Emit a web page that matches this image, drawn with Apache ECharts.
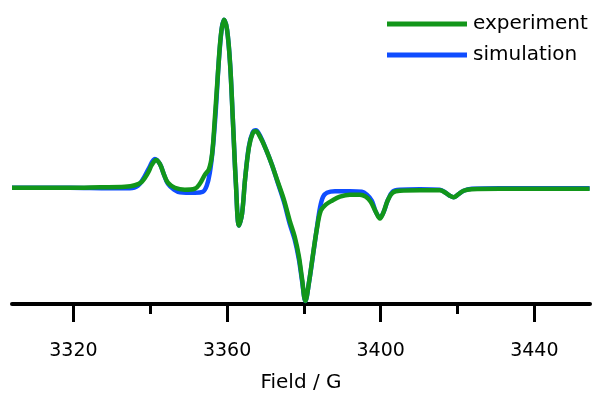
<!DOCTYPE html>
<html>
<head>
<meta charset="utf-8">
<style>html,body{margin:0;padding:0;background:#fff;}#c{width:606px;height:398px;}</style>
<script src="https://cdn.jsdelivr.net/npm/echarts@6/dist/echarts.min.js"></script>
</head>
<body>
<div id="c"></div>
<script>
// Field (G) and signal values
var expField = [3304.0,3311.3,3319.1,3326.9,3333.4,3336.0,3337.8,3339.4,3340.4,3341.5,3342.5,3343.6,3344.6,3346.4,3349.0,3351.6,3352.9,3354.2,3355.3,3356.1,3356.8,3357.6,3358.4,3359.2,3360.0,3360.8,3361.5,3362.3,3363.1,3363.9,3364.7,3365.7,3366.7,3367.5,3368.5,3370.1,3371.7,3373.2,3374.8,3376.3,3377.6,3378.7,3379.5,3380.4,3381.3,3382.3,3383.4,3384.4,3385.7,3387.3,3389.4,3392.0,3394.6,3396.1,3397.4,3398.7,3399.8,3400.8,3401.8,3403.1,3405.0,3410.2,3415.4,3416.9,3418.0,3419.0,3420.1,3421.6,3423.7,3431.0,3441.4,3454.4];
var experiment = [0,0,0,0.5,1,2.5,6,15,23,28,24,13,5,0,-2,-1,4,13,19,34,69,114,154,169,159,124,69,4,-38,-26,9,41,55,57,52,39,23,6,-12,-33,-49,-69,-91,-114,-96,-69,-41,-23,-17,-13,-9,-7,-7,-9,-14,-24,-31,-24,-13,-5,-3,-2.5,-2.5,-5,-8,-9.5,-7,-3,-1.5,-1,-1,-1];
var simField = [3304.0,3319.1,3329.5,3334.7,3336.8,3338.3,3339.7,3341.2,3342.5,3343.6,3344.6,3346.2,3347.7,3351.6,3353.7,3354.7,3355.5,3356.3,3357.1,3357.8,3358.6,3359.2,3360.0,3360.8,3361.5,3362.3,3363.1,3363.9,3364.7,3365.7,3366.7,3367.5,3368.5,3370.1,3371.7,3373.2,3374.8,3376.3,3377.6,3378.7,3379.5,3380.4,3381.3,3382.3,3383.4,3384.2,3385.0,3386.0,3388.1,3392.0,3395.1,3396.4,3397.7,3398.7,3399.8,3400.8,3401.8,3403.1,3405.0,3410.2,3415.4,3416.9,3418.0,3419.0,3420.1,3421.6,3423.7,3431.0,3454.4];
var simulation = [0,0,-0.5,-0.5,2,10,20,29,24,13,4,-2,-4.5,-5,-4,2,15,40,80,125,160,169,159,124,69,4,-38,-26,9,42,56,58,53,39,23,5,-14,-36,-52,-72,-93,-114,-96,-70,-40,-20,-9,-5,-3.5,-3.5,-4,-7,-13,-24,-30,-24,-13,-4,-2,-1.5,-2,-5,-8,-9.5,-7,-3,-1,-0.5,-0.5];
var majorTicks = [3320,3360,3400,3440];
var minorTicks = [3340,3380,3420];
var seriesNames = ['experiment','simulation'];
var xName = 'Field / G';

function pairs(xs, ys){ return xs.map(function(x,i){ return [x, ys[i]]; }); }

var chart = echarts.init(document.getElementById('c'), null, {renderer:'canvas'});
var font = 'DejaVu Sans';
chart.setOption({
  animation: false,
  backgroundColor: '#fff',
  grid: {left: 12, right: 16, top: 0, bottom: 92, containLabel: false},
  legend: {
    orient: 'vertical', left: 382, top: 7,
    data: seriesNames,
    icon: 'rect', itemWidth: 80, itemHeight: 5, itemGap: 7,
    textStyle: {fontFamily: font, fontSize: 20, color: '#000', lineHeight: 24, padding: [0,0,0,1]}
  },
  xAxis: [{
    type: 'value', min: 3304, max: 3454.5,
    name: xName, nameLocation: 'middle', nameGap: 69,
    nameTextStyle: {fontFamily: font, fontSize: 20, color: '#000'},
    axisLine: {show: true, onZero: false, lineStyle: {color: '#000', width: 4}},
    axisTick: {show: true, customValues: majorTicks, length: 18, lineStyle: {color: '#000', width: 3}},
    axisLabel: {show: true, customValues: majorTicks, margin: 38, fontFamily: font, fontSize: 19, color: '#000',
      formatter: function(v){ return String(v); }},
    splitLine: {show: false}
  },{
    type: 'value', min: 3304, max: 3454.5, position: 'bottom',
    axisLine: {show: false, onZero: false},
    axisTick: {show: true, customValues: minorTicks, length: 10, lineStyle: {color: '#000', width: 3}},
    axisLabel: {show: false},
    splitLine: {show: false}
  }],
  yAxis: {type: 'value', min: -117, max: 189, show: false, splitLine: {show: false}},
  series: [{
    name: seriesNames[0], type: 'line', xAxisIndex: 0, data: pairs(expField, experiment),
    smooth: 0.35, showSymbol: false, symbol: 'none', clip: false, z: 4,
    itemStyle: {color: '#12961a'},
    lineStyle: {color: '#12961a', width: 4.5}
  },{
    name: seriesNames[1], type: 'line', xAxisIndex: 0, data: pairs(simField, simulation),
    smooth: 0.35, showSymbol: false, symbol: 'none', clip: false, z: 3,
    itemStyle: {color: '#0f4dff'},
    lineStyle: {color: '#0f4dff', width: 4.5}
  }]
});
</script>
</body>
</html>
